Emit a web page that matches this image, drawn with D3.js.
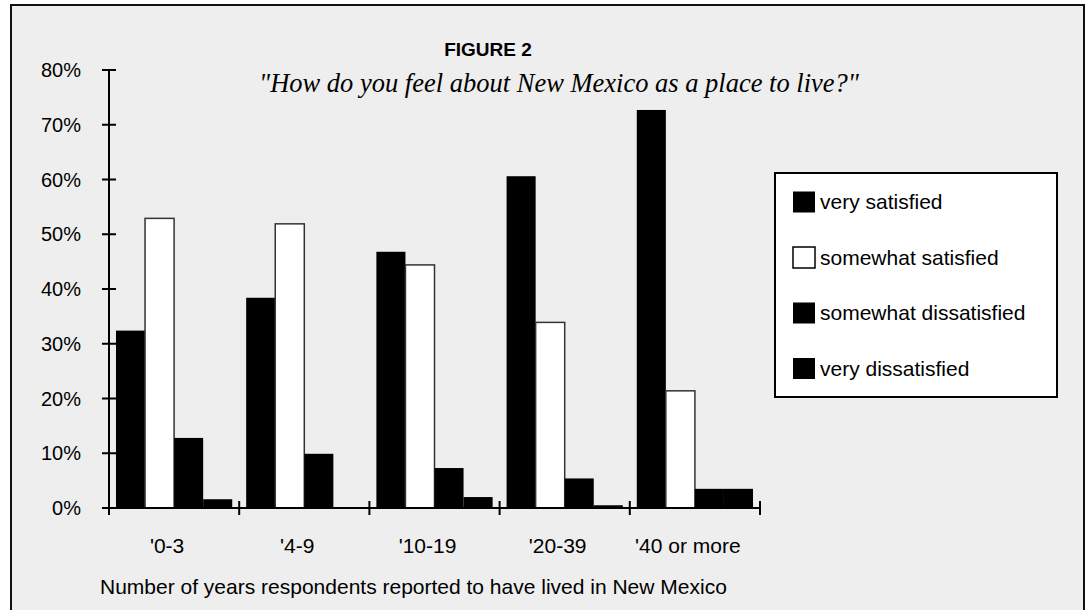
<!DOCTYPE html>
<html>
<head>
<meta charset="utf-8">
<script src="https://cdn.jsdelivr.net/npm/d3@7"></script>
<style>
  body { margin: 0; background: #fff; }
  svg { display: block; }
</style>
</head>
<body>
<div id="chart"></div>
<script>
// years lived in NM
const categories = ["'0-3", "'4-9", "'10-19", "'20-39", "'40 or more"];
const seriesNames = ['very satisfied', 'somewhat satisfied', 'somewhat dissatisfied', 'very dissatisfied'];
const verySatisfied = [32.4, 38.4, 46.8, 60.6, 72.7];
const somewhatSatisfied = [52.9, 51.9, 44.4, 33.9, 21.4];
const somewhatDissatisfied = [12.8, 9.9, 7.3, 5.4, 3.5];
const veryDissatisfied = [1.6, 0, 2.0, 0.5, 3.5];
const yTicks = [0, 10, 20, 30, 40, 50, 60, 70, 80];

const seriesValues = [verySatisfied, somewhatSatisfied, somewhatDissatisfied, veryDissatisfied];
const seriesFill = ['#000', '#fff', '#000', '#000'];

var width = 1088, height = 610;
var m = { left: 109, right: 760, top: 70, bottom: 508 };
var sans = 'Arial, "Liberation Sans", sans-serif';

var svg = d3.select('#chart').append('svg')
    .attr('width', width)
    .attr('height', height);

// panel
svg.append('rect')
    .attr('x', 11).attr('y', 5)
    .attr('width', 1073).attr('height', 620)
    .attr('fill', '#eeeeee')
    .attr('stroke', '#111')
    .attr('stroke-width', 2);

var x0 = d3.scaleBand().domain(categories).range([m.left, m.right]);
var x1 = d3.scaleBand().domain(d3.range(4)).range([0, x0.bandwidth()]).paddingOuter(0.24);
var y = d3.scaleLinear().domain([0, 80]).range([m.bottom, m.top]);

// bars
var groups = svg.selectAll('.group')
    .data(categories)
  .enter().append('g')
    .attr('class', 'group')
    .attr('transform', d => 'translate(' + x0(d) + ',0)');

groups.selectAll('rect')
    .data((d, i) => seriesValues.map((s, k) => ({ k: k, v: s[i] })))
  .enter().append('rect')
    .attr('x', d => x1(d.k))
    .attr('y', d => y(d.v))
    .attr('width', x1.bandwidth())
    .attr('height', d => y(0) - y(d.v))
    .attr('fill', d => seriesFill[d.k])
    .attr('stroke', d => d.k === 1 ? '#333' : 'none')
    .attr('stroke-width', 1.5);

// y axis
svg.append('line')
    .attr('x1', m.left).attr('x2', m.left)
    .attr('y1', m.top).attr('y2', m.bottom)
    .attr('stroke', '#000').attr('stroke-width', 2);
svg.selectAll('.ytick')
    .data(yTicks)
  .enter().append('line')
    .attr('x1', m.left - 7).attr('x2', m.left + 7)
    .attr('y1', d => y(d)).attr('y2', d => y(d))
    .attr('stroke', '#000').attr('stroke-width', 2);
svg.selectAll('.ylab')
    .data(yTicks)
  .enter().append('text')
    .attr('x', 81).attr('y', d => y(d))
    .attr('dy', '0.35em')
    .attr('text-anchor', 'end')
    .style('font', '20px ' + sans)
    .text(d => d + '%');

// x axis
svg.append('line')
    .attr('x1', m.left).attr('x2', m.right)
    .attr('y1', m.bottom).attr('y2', m.bottom)
    .attr('stroke', '#000').attr('stroke-width', 2);
svg.selectAll('.xtick')
    .data(categories.concat(['end']))
  .enter().append('line')
    .attr('x1', d => d === 'end' ? m.right : x0(d))
    .attr('x2', d => d === 'end' ? m.right : x0(d))
    .attr('y1', m.bottom - 7).attr('y2', m.bottom + 7)
    .attr('stroke', '#000').attr('stroke-width', 2);
svg.selectAll('.xlab')
    .data(categories)
  .enter().append('text')
    .attr('x', d => x0(d) + x0.bandwidth() / 2 - 7)
    .attr('y', 553)
    .attr('text-anchor', 'middle')
    .style('font', '21px ' + sans)
    .text(d => d);

svg.append('text')
    .attr('x', 100).attr('y', 594)
    .style('font', '21px ' + sans)
    .text('Number of years respondents reported to have lived in New Mexico');

// titles
svg.append('text')
    .attr('x', 488).attr('y', 56)
    .attr('text-anchor', 'middle')
    .style('font', 'bold 19px ' + sans)
    .text('FIGURE 2');
svg.append('text')
    .attr('x', 559).attr('y', 92)
    .attr('text-anchor', 'middle')
    .style('font', 'italic 26.5px "Times New Roman", "Liberation Serif", serif')
    .text('"How do you feel about New Mexico as a place to live?"');

// legend
var legend = svg.append('g').attr('transform', 'translate(775,173)');
legend.append('rect')
    .attr('width', 282).attr('height', 224)
    .attr('fill', '#fff')
    .attr('stroke', '#000').attr('stroke-width', 2);
var items = legend.selectAll('.item')
    .data(seriesNames)
  .enter().append('g')
    .attr('transform', (d, i) => 'translate(18,' + (29 + i * 55.5) + ')');
items.append('rect')
    .attr('x', 0).attr('y', -10.5)
    .attr('width', 22).attr('height', 21)
    .attr('fill', (d, i) => seriesFill[i])
    .attr('stroke', (d, i) => i === 1 ? '#000' : 'none')
    .attr('stroke-width', 1.5);
items.append('text')
    .attr('x', 27).attr('dy', '0.35em')
    .style('font', '21px ' + sans)
    .text(d => d);
</script>
</body>
</html>
